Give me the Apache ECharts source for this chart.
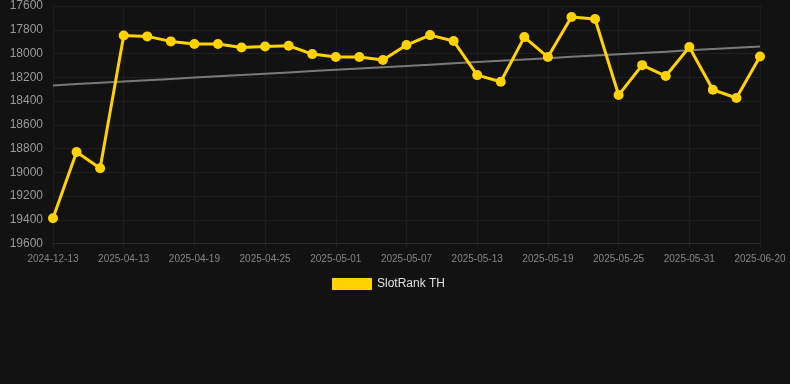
<!DOCTYPE html>
<html>
<head>
<meta charset="utf-8">
<script src="https://cdn.jsdelivr.net/npm/echarts@6/dist/echarts.min.js"></script>
<style>
html, body { margin: 0; padding: 0; background: #121212; }
#chart { width: 790px; height: 384px; }
</style>
</head>
<body>
<div id="chart"></div>
<script>
// categories (only every 3rd label is shown)
var dates = ['2024-12-13', '2025-04-09', '2025-04-11', '2025-04-13', '2025-04-15', '2025-04-17',
    '2025-04-19', '2025-04-21', '2025-04-23', '2025-04-25', '2025-04-27', '2025-04-29',
    '2025-05-01', '2025-05-03', '2025-05-05', '2025-05-07', '2025-05-09', '2025-05-11',
    '2025-05-13', '2025-05-15', '2025-05-17', '2025-05-19', '2025-05-21', '2025-05-23',
    '2025-05-25', '2025-05-27', '2025-05-29', '2025-05-31', '2025-06-02', '2025-06-04',
    '2025-06-20']
var rankValues = [19388, 18830, 18966, 17848, 17856, 17898, 17920, 17920, 17949, 17941,
    17935, 18005, 18030, 18030, 18055, 17929, 17845, 17895, 18182, 18238,
    17862, 18030, 17693, 17710, 18350, 18098, 18190, 17946, 18305, 18375, 18025]
var seriesName = 'SlotRank TH'

// least squares trend over the index
function trend(vals){
    var n = vals.length, sx = 0, sy = 0, sxy = 0, sxx = 0
    for (var i = 0; i < n; i++) {
        sx += i; sy += vals[i]; sxy += i * vals[i]; sxx += i * i
    }
    var b = (n * sxy - sx * sy) / (n * sxx - sx * sx)
    var a = (sy - b * sx) / n
    var res = []
    for (var j = 0; j < n; j++) res.push(Math.round((a + b * j) * 10) / 10)
    return res
}

var chart = echarts.init(document.getElementById('chart'))
var option = {
    backgroundColor: '#121212',
    animation: false,
    grid: { left: 53, right: 30, top: 6, bottom: 140.5, containLabel: false },
    legend: {
        data: [seriesName],
        top: 273,
        left: 327,
        itemWidth: 40,
        itemHeight: 12,
        icon: 'rect',
        textStyle: { color: '#e0e0e0', fontSize: 12, fontFamily: 'Liberation Sans, Arial, sans-serif' }
    },
    xAxis: {
        type: 'category',
        data: dates,
        boundaryGap: false,
        axisLine: { lineStyle: { color: '#2a2a2a' } },
        axisTick: { show: true, interval: 2, length: 4, lineStyle: { color: '#232323' } },
        axisLabel: { interval: 2, color: '#858585', fontSize: 10, margin: 11, fontFamily: 'Liberation Sans, Arial, sans-serif' },
        splitLine: { show: true, interval: 2, lineStyle: { color: '#1d1d1d' } }
    },
    yAxis: {
        type: 'value',
        inverse: true,
        min: 17600,
        max: 19600,
        interval: 200,
        axisLine: { show: false },
        axisTick: { show: false },
        axisLabel: {
            color: '#9a9a9a', fontSize: 12, margin: 10, fontFamily: 'Liberation Sans, Arial, sans-serif',
            formatter: function (v) { return String(v) }
        },
        splitLine: { lineStyle: { color: '#1f1f1f' } }
    },
    series: [
        {
            name: seriesName,
            type: 'line',
            data: rankValues,
            symbol: 'circle',
            symbolSize: 10,
            itemStyle: { color: '#ffd200' },
            lineStyle: { color: '#ffd200', width: 3 },
            z: 3
        },
        {
            name: 'trend',
            type: 'line',
            data: trend(rankValues),
            symbol: 'none',
            lineStyle: { color: '#7a7a7a', width: 2 },
            silent: true,
            z: 2
        }
    ]
}
chart.setOption(option)
</script>
</body>
</html>
